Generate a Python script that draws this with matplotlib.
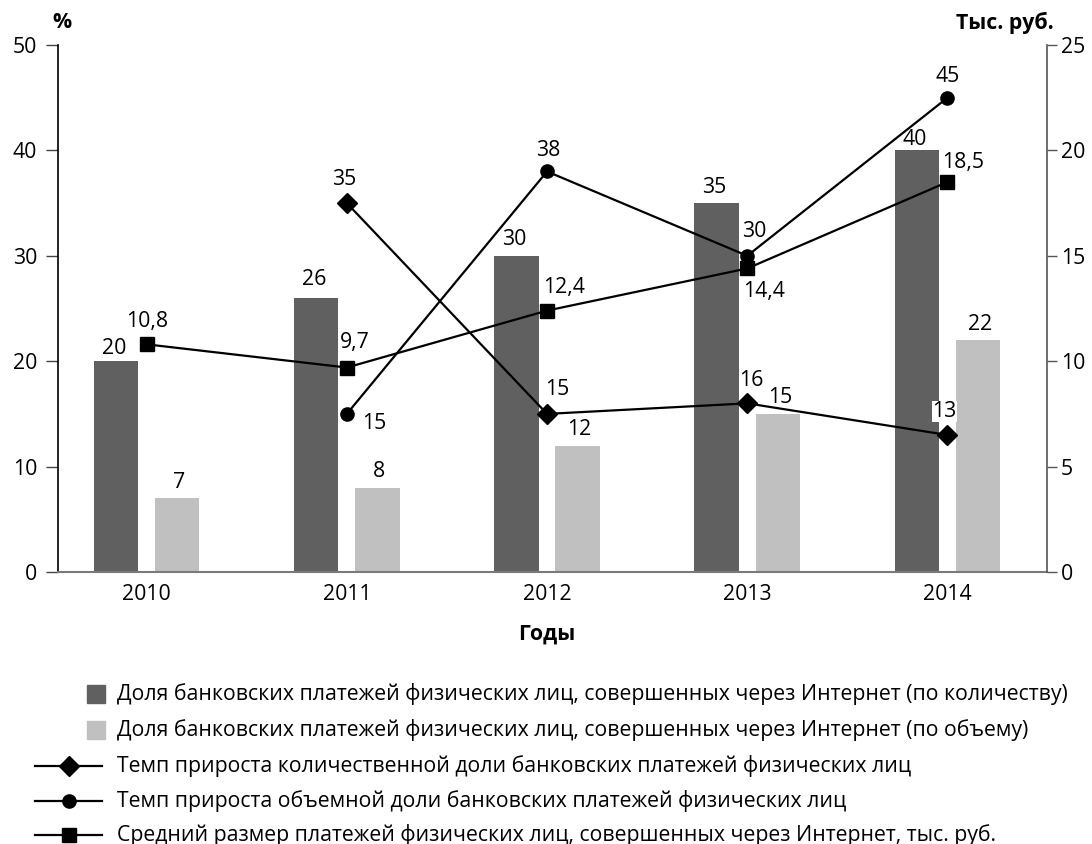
import matplotlib
matplotlib.use("Agg")
import matplotlib.pyplot as plt
from matplotlib.lines import Line2D
from matplotlib.patches import Rectangle
import numpy as np

plt.rcParams['font.family'] = ['Open Sans', 'DejaVu Sans']

years = ["2010", "2011", "2012", "2013", "2014"]
share_count = [20, 26, 30, 35, 40]
share_volume = [7, 8, 12, 15, 22]
growth_count = [np.nan, 35, 15, 16, 13]
growth_volume = [np.nan, 15, 38, 30, 45]
avg_payment = [10.8, 9.7, 12.4, 14.4, 18.5]
avg_payment_labels = ["10,8", "9,7", "12,4", "14,4", "18,5"]

legend_labels = [
    "Доля банковских платежей физических лиц, совершенных через Интернет (по количеству)",
    "Доля банковских платежей физических лиц, совершенных через Интернет (по объему)",
    "Темп прироста количественной доли банковских платежей физических лиц",
    "Темп прироста объемной доли банковских платежей физических лиц",
    "Средний размер платежей физических лиц, совершенных через Интернет, тыс. руб.",
]

W, H = 1092, 844
DPI = 100
FS = 15.3
dark = "#606060"
light = "#c0c0c0"

fig = plt.figure(figsize=(W / DPI, H / DPI), dpi=DPI)
ax_l, ax_r, ax_t, ax_b = 57.5, 1047, 45, 572
ax = fig.add_axes([ax_l / W, 1 - ax_b / H, (ax_r - ax_l) / W, (ax_b - ax_t) / H])
ax2 = ax.twinx()

x = np.arange(len(years))
bw = 0.222
off = 0.153
ax.bar(x - off, share_count, bw, color=dark, zorder=2)
ax.bar(x + off, share_volume, bw, color=light, zorder=2)

ax.set_xlim(-0.445, 4.497)
ax.set_ylim(0, 50)
ax2.set_ylim(0, 25)
ax.set_yticks(range(0, 51, 10))
ax2.set_yticks(range(0, 26, 5))
ax.set_xticks(x)
ax.set_xticklabels(years, fontsize=FS)

for a in (ax, ax2):
    a.spines['top'].set_visible(False)
ax.spines['right'].set_visible(False)
ax2.spines['left'].set_visible(False)
ax2.spines['bottom'].set_visible(False)
ax.spines['left'].set_color("black")
ax.spines['left'].set_linewidth(1.2)
ax.spines['bottom'].set_color("#7a7a7a")
ax.spines['bottom'].set_linewidth(1.5)
ax2.spines['right'].set_color("#555555")
ax2.spines['right'].set_linewidth(1.2)

ax.tick_params(axis='x', length=0, pad=9, labelsize=FS)
ax.tick_params(axis='y', length=8.6, width=1, color="#444444", pad=6, labelsize=FS)
ax2.tick_params(axis='y', length=7, width=1, color="#555555", pad=3, labelsize=FS)

px = 0.72  # pixel -> points
lw = 1.6
ax.plot(x, growth_count, color="black", lw=lw, marker="D", ms=10, zorder=4)
ax.plot(x, growth_volume, color="black", lw=lw, marker="o", ms=9.5, zorder=4)
ax2.plot(x, avg_payment, color="black", lw=lw, marker="s", ms=10, zorder=4)

def lab(a, xi, yi, s, dx, dy, bg=False):
    kw = {}
    if bg:
        kw['bbox'] = dict(boxstyle="square,pad=0.0", fc="white", ec="none")
    a.annotate(s, (xi, yi), xytext=(dx * px, -dy * px), textcoords="offset points",
               ha="center", va="center", fontsize=FS, zorder=6, **kw)

dark_dy = [-13, -18, -16, -16, -11]
for i, v in enumerate(share_count):
    lab(ax, x[i] - off, v, str(v), -2, dark_dy[i])
for i, v in enumerate(share_volume):
    lab(ax, x[i] + off, v, str(v), 2, -16)

sq_off = [(1, -23), (8, -25), (17, -23), (17, 23), (16, -20)]
for i, v in enumerate(avg_payment):
    lab(ax2, x[i], v, avg_payment_labels[i], *sq_off[i])

circ_off = {1: (27, 10), 2: (1, -21), 3: (7, -24), 4: (0, -21)}
for i, (dx, dy) in circ_off.items():
    lab(ax, x[i], growth_volume[i], str(growth_volume[i]), dx, dy)

dia_off = {1: (-3, -24), 2: (10, -24), 3: (4, -23), 4: (-3, -23)}
for i, (dx, dy) in dia_off.items():
    lab(ax, x[i], growth_count[i], str(growth_count[i]), dx, dy, bg=(i == 4))

def ft(xp, yp, s, **kw):
    fig.text(xp / W, 1 - yp / H, s, **kw)

ft(62, 22, "%", fontsize=FS, fontweight="bold", ha="center", va="center")
ft(1054, 23, "Тыс. руб.", fontsize=FS, fontweight="bold", ha="right", va="center")
ft(547, 634, "Годы", fontsize=FS, fontweight="bold", ha="center", va="center")

# legend
rows_y = [694, 730, 766, 801, 835]
text_x = 117
for k, (col) in enumerate([dark, light]):
    y = rows_y[k]
    fig.add_artist(Rectangle((87 / W, 1 - (y + 9) / H), 18 / W, 18 / H,
                             transform=fig.transFigure, color=col))
markers = ["D", "o", "s"]
msz = [10, 9.5, 10]
for k in range(3):
    y = 1 - rows_y[k + 2] / H
    fig.add_artist(Line2D([35 / W, 102 / W], [y, y], transform=fig.transFigure,
                          color="black", lw=lw))
    fig.add_artist(Line2D([69 / W], [y], transform=fig.transFigure, color="black",
                          marker=markers[k], ms=msz[k], lw=0))
for k, s in enumerate(legend_labels):
    ft(text_x, rows_y[k], s, fontsize=FS, ha="left", va="center")

fig.savefig("out.png", dpi=DPI)
